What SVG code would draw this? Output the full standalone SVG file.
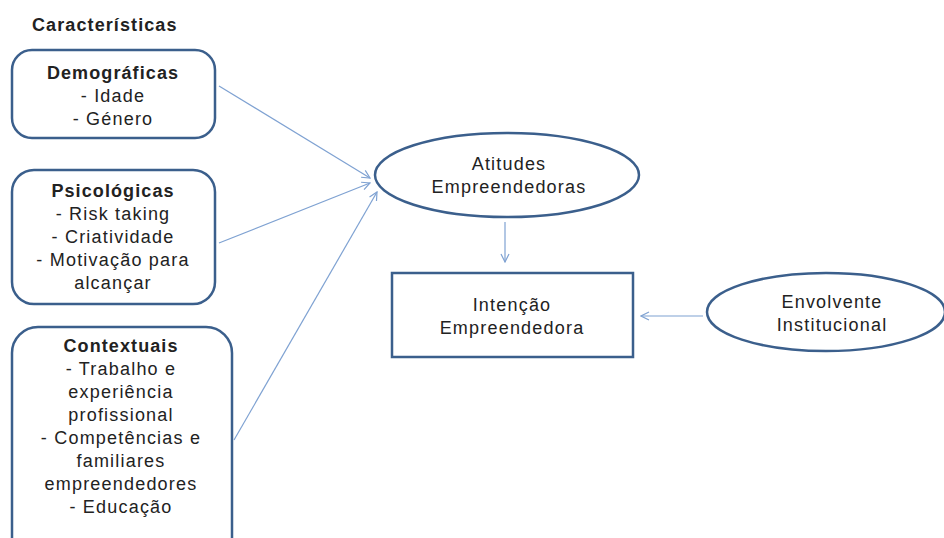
<svg xmlns="http://www.w3.org/2000/svg" width="944" height="538" viewBox="0 0 944 538">
<defs>
<style>
.box{fill:#fff;stroke:#3b5f8c;stroke-width:2.5}
.t{font-family:"Liberation Sans",Arial,sans-serif;font-size:18px;letter-spacing:1.2px;fill:#222;text-anchor:middle}
.b{font-weight:bold;letter-spacing:1.1px}
.c{stroke:#7fa2d2;stroke-width:1.2;fill:none;marker-end:url(#ah)}
</style>
<marker id="ah" viewBox="0 0 10 10" refX="9" refY="5" markerWidth="10" markerHeight="10" markerUnits="userSpaceOnUse" orient="auto">
<path d="M1,1 L9,5 L1,9" fill="none" stroke="#7fa2d2" stroke-width="1.2"/>
</marker>
</defs>
<rect width="944" height="538" fill="#fff"/>
<text class="t b" x="32" y="31" style="text-anchor:start">Características</text>
<g id="demograficas">
<rect class="box" x="12" y="50" width="203" height="88" rx="20"/>
<text class="t b" x="113" y="79">Demográficas</text>
<text class="t" x="113" y="102">- Idade</text>
<text class="t" x="113" y="125">- Género</text>
</g>
<g id="psicologicas">
<rect class="box" x="12" y="170" width="203" height="134" rx="22"/>
<text class="t b" x="113" y="197">Psicológicas</text>
<text class="t" x="113" y="220">- Risk taking</text>
<text class="t" x="113" y="243">- Criatividade</text>
<text class="t" x="113" y="266">- Motivação para</text>
<text class="t" x="113" y="289">alcançar</text>
</g>
<g id="contextuais">
<rect class="box" x="12" y="327" width="220" height="240" rx="26"/>
<text class="t b" x="121" y="352">Contextuais</text>
<text class="t" x="121" y="375">- Trabalho e</text>
<text class="t" x="121" y="398">experiência</text>
<text class="t" x="121" y="421">profissional</text>
<text class="t" x="121" y="444">- Competências e</text>
<text class="t" x="121" y="467">familiares</text>
<text class="t" x="121" y="490">empreendedores</text>
<text class="t" x="121" y="513">- Educação</text>
</g>
<g id="atitudes">
<ellipse class="box" cx="507" cy="175" rx="132" ry="42"/>
<text class="t" x="509" y="170">Atitudes</text>
<text class="t" x="509" y="193">Empreendedoras</text>
</g>
<g id="intencao">
<rect class="box" x="392" y="273" width="241" height="84"/>
<text class="t" x="512" y="311">Intenção</text>
<text class="t" x="512" y="334">Empreendedora</text>
</g>
<g id="envolvente">
<ellipse class="box" cx="826" cy="312" rx="119" ry="39"/>
<text class="t" x="832" y="308">Envolvente</text>
<text class="t" x="832" y="331">Institucional</text>
</g>
<g id="connectors">
<line class="c" x1="219" y1="86" x2="370" y2="178"/>
<line class="c" x1="219" y1="243" x2="370" y2="183"/>
<line class="c" x1="234" y1="440" x2="377" y2="192"/>
<line class="c" x1="505" y1="222" x2="505" y2="262"/>
<line class="c" x1="703" y1="316" x2="641" y2="316"/>
</g>
</svg>
